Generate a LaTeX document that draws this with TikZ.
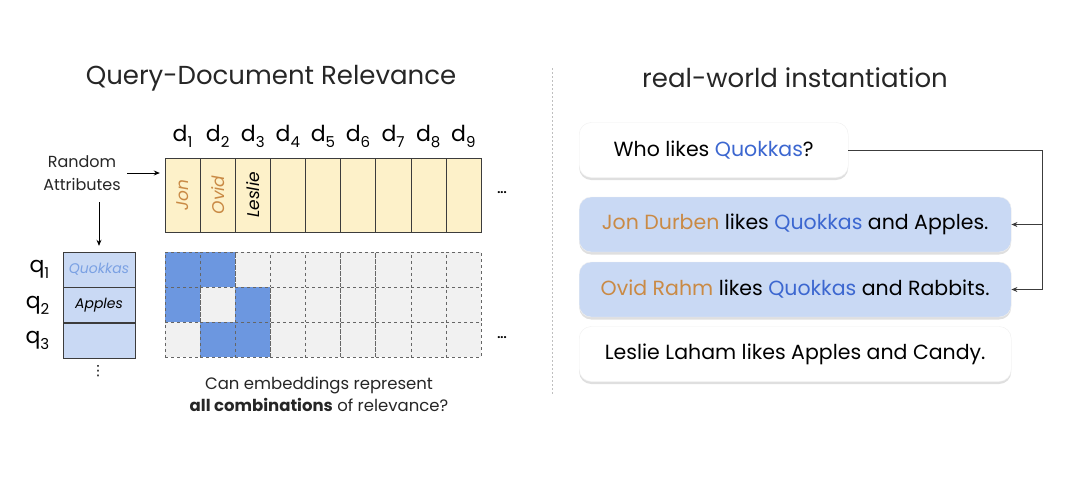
\documentclass[tikz,border=0pt]{standalone}
\usepackage{fontspec}
\setmainfont{Poppins}
\newfontfamily\symfont{DejaVu Sans}
\usetikzlibrary{positioning,shadows,arrows.meta}

\definecolor{docyellow}{HTML}{FDF1C9}
\definecolor{qblue}{HTML}{C9D9F4}
\definecolor{cellblue}{HTML}{6C97E0}
\definecolor{cellgray}{HTML}{F1F1F1}
\definecolor{nameorange}{HTML}{C98A45}
\definecolor{wordblue}{HTML}{3C67D0}
\definecolor{linegray}{HTML}{3C3C3C}
\newcommand{\lowsub}[1]{\raisebox{-0.5ex}{\fontsize{15}{15}\selectfont #1}}

\begin{document}
\begin{tikzpicture}[x=1pt,y=-1pt,
  title/.style={font=\fontsize{26}{30}\selectfont, text=black!85},
  doccell/.style={draw=linegray, fill=docyellow, minimum width=35.1pt, minimum height=74pt, inner sep=0pt},
  docname/.style={rotate=90, font=\fontsize{17}{19}\selectfont\itshape},
  relcell/.style={draw=black!60, dashed, fill=cellgray, minimum width=35.1pt, minimum height=35pt, inner sep=0pt},
  qcell/.style={draw=linegray, fill=qblue, minimum width=72pt, minimum height=35pt, inner sep=0pt, font=\fontsize{14}{16}\selectfont\itshape},
  sentence/.style={draw=black!6, rounded corners=12pt, minimum height=55pt, anchor=west,
    drop shadow={shadow xshift=0pt, shadow yshift=-2.5pt, opacity=0.25}, font=\fontsize{20.5}{24}\selectfont},
  link/.style={draw=linegray, line width=0.9pt, -{Stealth[length=6pt,width=5pt]}}]
  \useasboundingbox (0,0) rectangle (1080,483);

  % titles and divider
  \node[title] (lefttitle) at (271,78) {Query-Document Relevance};
  \node[title] (righttitle) at (795,78) {real-world instantiation};
  \draw[black!25, dash pattern=on 2pt off 2pt] (552,68) -- (552,395);

  % documents
  \foreach \i in {1,...,9} {
    \node[doccell] (doc\i) at ({165+35.1*(\i-0.5)},195) {};
    \node[font=\fontsize{22}{24}\selectfont, anchor=base] (dlab\i) at ({165+35.1*(\i-0.5)},141) {d\lowsub{\i}};
  }
  \node[docname, text=nameorange] (jonname) at (doc1) {Jon};
  \node[docname, text=nameorange] (ovidname) at (doc2) {Ovid};
  \node[docname] (lesliename) at (doc3) {Leslie};
  \node[font=\bfseries\fontsize{11}{11}\selectfont] (docdots) at (502,193) {...};

  % relevance matrix
  \foreach \r in {1,2,3}
    \foreach \c in {1,...,9}
      \node[relcell] (m-\r-\c) at ({165+35.1*(\c-0.5)},{252+35*(\r-0.5)}) {};
  \foreach \r/\c in {1/1,1/2,2/1,2/3,3/2,3/3}
    \node[relcell, fill=cellblue] at (m-\r-\c) {};
  \node[font=\bfseries\fontsize{11}{11}\selectfont] (reldots) at (502,338) {...};

  % queries
  \node[qcell, text=cellblue!90] (q1) at (99,269.5) {Quokkas};
  \node[qcell, below=0pt of q1] (q2) {Apples};
  \node[qcell, below=0pt of q2] (q3) {};
  \foreach \i in {1,2,3}
    \node[font=\fontsize{22}{24}\selectfont, left=10pt of q\i] (qlab\i) {q\lowsub{\i}};
  \node[font=\symfont\fontsize{14}{14}\selectfont] (qdots) at (98,371) {⋮};

  \node[align=center, font=\fontsize{16}{23}\selectfont, text=black!85] (attr) at (82,173) {Random\\Attributes};
  \draw[-{Stealth[length=6pt,width=5pt]}, line width=0.8pt, shorten <=3pt, shorten >=5pt] (attr.east) -- (attr.east -| doc1.west);
  \draw[-{Stealth[length=6pt,width=5pt]}, line width=0.8pt, shorten <=8pt, shorten >=6pt] (attr.south -| q1.north) -- (q1.north);

  \node[align=center, font=\fontsize{16.5}{22}\selectfont, text=black!85] (caption) at (319,394)
    {Can embeddings represent\\\textbf{all combinations} of relevance?};

  % real-world sentences
  \node[sentence, fill=white, minimum width=269pt] (who) at (579,150)
    {Who likes \textcolor{wordblue}{Quokkas}?};
  \node[sentence, fill=qblue, minimum width=432pt] (jon) at (579,224.5)
    {\textcolor{nameorange}{Jon Durben} likes \textcolor{wordblue}{Quokkas} and Apples.};
  \node[sentence, fill=qblue, minimum width=432pt] (ovid) at (579,289.5)
    {\textcolor{nameorange}{Ovid Rahm} likes \textcolor{wordblue}{Quokkas} and Rabbits.};
  \node[sentence, fill=white, minimum width=432pt] (leslie) at (579,354)
    {Leslie Laham likes Apples and Candy.};

  \coordinate (turn) at (1042,150);
  \draw[link] (who.east) -- (turn) |- (jon.east);
  \draw[link] (turn) |- (ovid.east);
\end{tikzpicture}
\end{document}
